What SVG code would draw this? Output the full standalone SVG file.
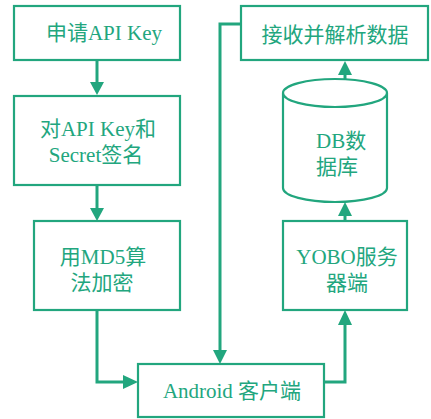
<svg xmlns="http://www.w3.org/2000/svg" width="431" height="419" viewBox="0 0 431 419">
<style>
.box{fill:#fff;stroke:#22a67e;stroke-width:2.2}
.ln{fill:none;stroke:#22a67e;stroke-width:3}
.t{font-family:"Liberation Serif","Noto Sans CJK SC",serif;font-size:21px;fill:#22a67e;text-anchor:middle}
.s{text-anchor:start}
</style>
<rect width="431" height="419" fill="#fff"/>
<g id="connectors">
<path class="ln" d="M97,60 V82"/><path d="M90,82 L104,82 L97,95 Z" fill="#22a67e"/>
<path class="ln" d="M97,185 V208"/><path d="M90,208 L104,208 L97,221 Z" fill="#22a67e"/>
<path class="ln" d="M97,310 V382 H124"/><path d="M123,375 L123,389 L138,382 Z" fill="#22a67e"/>
<path class="ln" d="M241,24 H220 V350"/><path d="M213,350 L227,350 L220,364 Z" fill="#22a67e"/>
<path class="ln" d="M324,382 H345 V325"/><path d="M338,325 L352,325 L345,310 Z" fill="#22a67e"/>
<path class="ln" d="M345,221 V216"/><path d="M338,216 L352,216 L345,202 Z" fill="#22a67e"/>
<path class="ln" d="M345,79 V75"/><path d="M338,75 L352,75 L345,61 Z" fill="#22a67e"/>
</g>
<g id="n1"><rect class="box" x="14" y="6" width="166" height="54"/><text class="t" x="104" y="40">申请API Key</text></g>
<g id="n2"><rect class="box" x="14" y="96" width="166" height="89"/><text class="t" x="98" y="136">对API Key和</text><text class="t" x="96" y="162">Secret签名</text></g>
<g id="n3"><rect class="box" x="34" y="221" width="146" height="89"/><text class="t" x="103" y="264">用MD5算</text><text class="t" x="102" y="290">法加密</text></g>
<g id="n4"><rect class="box" x="138" y="364" width="186" height="53"/><text class="t" x="232" y="398">Android 客户端</text></g>
<g id="n5"><rect class="box" x="241" y="6" width="187" height="54"/><text class="t" x="335" y="42">接收并解析数据</text></g>
<g id="n6"><path class="box" d="M283,93 V188 A52,14 0 0 0 387,188 V93 A52,14 0 0 0 283,93 A52,14 0 0 0 387,93"/><text class="t s" x="316" y="148">DB数</text><text class="t s" x="316" y="174">据库</text></g>
<g id="n7"><rect class="box" x="283" y="221" width="124" height="89"/><text class="t" x="347" y="264">YOBO服务</text><text class="t" x="347" y="290">器端</text></g>
</svg>
